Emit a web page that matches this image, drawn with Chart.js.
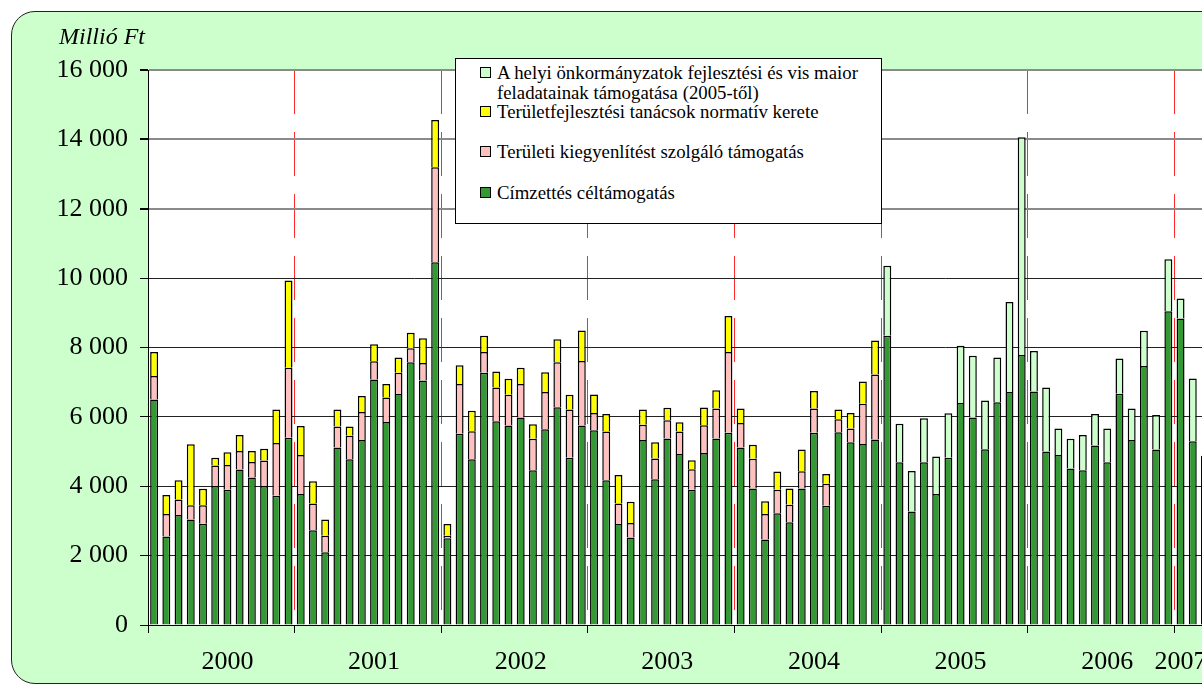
<!DOCTYPE html>
<html>
<head>
<meta charset="utf-8">
<script src="https://cdn.jsdelivr.net/npm/chart.js@4/dist/chart.umd.min.js"></script>
<style>
body { margin: 0; width: 1202px; height: 686px; overflow: hidden; background: #fff; position: relative;
       font-family: "Liberation Serif", "Times New Roman", serif; color: #000; }
#frame { position: absolute; left: 11px; top: 11px; width: 1320px; height: 671px; background: #ccffcc;
         border: 1px solid #222; border-radius: 24px; }
#chart { position: absolute; left: 0; top: 0; }
#unit { position: absolute; left: 59px; top: 22px; font-size: 24px; line-height: 28px; font-style: italic; }
#legend { position: absolute; left: 455px; top: 58px; width: 427px; height: 166px; background: #fff;
          border: 1px solid #000; box-sizing: border-box; }
.item { position: absolute; left: 24px; font-size: 18.8px; line-height: 20px; white-space: nowrap; }
.mark { position: absolute; left: 0; top: 4px; width: 9px; height: 9px; border: 1.5px solid #000; }
.txt { position: absolute; left: 17px; top: 0; }
</style>
</head>
<body>
<div id="frame"></div>
<canvas id="chart" width="1219" height="686"></canvas>
<div id="unit">Millió Ft</div>
<div id="legend"></div>
<script>
// havi adatok, millió Ft
const years = ["2000", "2001", "2002", "2003", "2004", "2005", "2006", "2007"];
const months = ["01", "02", "03", "04", "05", "06", "07", "08", "09", "10", "11", "12"];
const lastMonth2007 = 3;

const yearTicks = ["2000", "2001", "2002", "2003", "2004", "2005", "2006", "2007"];
const yearTickIndex = [6, 18, 30, 42, 54, 66, 78, 84];

const cimzett = [
    6500, 2550, 3170, 3040, 2920, 4010, 3900, 4480, 4250, 4010, 3725, 5400,
    3780, 2730, 2100, 5120, 4775, 5330, 7080, 5855, 6660, 7575, 7050, 10460,
    2500, 5510, 4775, 7270, 5875, 5750, 5980, 4460, 5645, 6275, 4825, 5750,
    5615, 4175, 2915, 2520, 5330, 4200, 5380, 4930, 3900, 4955, 5380, 5540,
    5120, 3935, 2465, 3220, 2960, 3935, 5540, 3440, 5560, 5265, 5215, 5350,
    8340, 4690, 3275, 4690, 3775, 4825, 6400, 5980, 5070, 6420, 6715, 7785,
    6735, 5005, 4900, 4510, 4460, 5175, 4690, 6665, 5330, 7470, 5060, 9045,
    8835, 5300, 4880
];
const teruleti = [
    680, 650, 450, 410, 535, 590, 710, 535, 450, 735, 1520, 2015,
    1120, 775, 470, 600, 680, 810, 525, 700, 610, 400, 505, 2740,
    75, 1440, 810, 600, 975, 890, 965, 910, 1070, 1300, 1385, 1860,
    495, 1405, 590, 420, 440, 600, 525, 650, 590, 800, 860, 2330,
    700, 860, 735, 680, 505, 495, 700, 630, 370, 400, 1165, 1870,
    null, null, null, null, null, null, null, null, null, null, null, null,
    null, null, null, null, null, null, null, null, null, null, null, null,
    null, null, null
];
const tanacsok = [
    690, 550, 550, 1760, 470, 220, 370, 460, 315, 335, 965, 2520,
    840, 640, 470, 490, 265, 460, 490, 390, 440, 450, 715, 1355,
    335, 535, 590, 470, 460, 460, 470, 420, 575, 660, 430, 880,
    535, 505, 820, 610, 440, 470, 355, 265, 260, 515, 525, 1040,
    420, 400, 370, 525, 470, 630, 505, 285, 285, 450, 640, 985,
    null, null, null, null, null, null, null, null, null, null, null, null,
    null, null, null, null, null, null, null, null, null, null, null, null,
    null, null, null
];
const onkormanyzati = [
    null, null, null, null, null, null, null, null, null, null, null, null,
    null, null, null, null, null, null, null, null, null, null, null, null,
    null, null, null, null, null, null, null, null, null, null, null, null,
    null, null, null, null, null, null, null, null, null, null, null, null,
    null, null, null, null, null, null, null, null, null, null, null, null,
    2015, 1110, 1165, 1270, 1080, 1280, 1650, 1785, 1405, 1290, 2600, 6275,
    1165, 1845, 765, 860, 1020, 910, 975, 1020, 915, 1010, 995, 1500,
    575, 1805, null
];

const seriesNames = [
    "Címzettés céltámogatás",
    "Területi kiegyenlítést szolgáló támogatás",
    "Területfejlesztési tanácsok normatív kerete",
    ["A helyi önkormányzatok fejlesztési és vis maior", "feladatainak támogatása (2005-től)"]
];
const seriesColors = ["#339933", "#ffc0c0", "#ffff00", "#ccffcc"];

const categories = [];
years.forEach(y => months.forEach((m, i) => {
    if (y !== "2007" || i < lastMonth2007) categories.push(y + "." + m);
}));

Chart.defaults.font.family = '"Liberation Serif", "Times New Roman", serif';
Chart.defaults.color = "#000";

function fmt(v) {
    return String(v).replace(/\B(?=(\d{3})+(?!\d))/g, " ");
}

const plotBg = {
    id: "plotBg",
    beforeDraw(chart) {
        const a = chart.chartArea;
        chart.ctx.save();
        chart.ctx.fillStyle = "#fff";
        chart.ctx.fillRect(a.left, a.top, a.right - a.left, a.bottom - a.top);
        chart.ctx.restore();
    }
};

const values = [cimzett, teruleti, tanacsok, onkormanyzati];
const datasets = values.map((d, i) => ({
    label: seriesNames[i],
    data: d,
    backgroundColor: seriesColors[i],
    borderColor: "#000",
    borderWidth: 1.5,
    barPercentage: 0.65,
    categoryPercentage: 1
}));

const chartobj = new Chart(document.getElementById("chart"), {
    type: "bar",
    data: { labels: categories, datasets: datasets },
    options: {
        responsive: false,
        animation: false,
        layout: { padding: { top: 70, right: 0, bottom: 0, left: 0 } },
        plugins: { legend: { display: false }, tooltip: { enabled: false } },
        scales: {
            x: {
                stacked: true,
                offset: true,
                grid: {
                    offset: true,
                    color: c => (c.index > 0 && c.index % 12 === 0) ? "#ff2a2a" : "rgba(0,0,0,0)",
                    lineWidth: 1,
                    tickColor: c => (c.index % 12 === 0) ? "#000" : "rgba(0,0,0,0)",
                    tickLength: 8
                },
                border: { color: "#000", width: 1, dash: [44, 18] },
                ticks: {
                    autoSkip: false,
                    maxRotation: 0,
                    padding: 14,
                    font: { size: 26 },
                    callback: (v, i) => {
                        const k = yearTickIndex.indexOf(i);
                        return k < 0 ? "" : yearTicks[k];
                    }
                },
                afterFit: s => { s.height = 61; }
            },
            y: {
                stacked: true,
                min: 0,
                max: 16000,
                ticks: { stepSize: 2000, padding: 12, font: { size: 26 }, callback: v => fmt(v) },
                grid: {
                    color: c => (c.tick && c.tick.value >= 12000) ? "#8a8a8a" : "#222",
                    lineWidth: c => (c.tick && c.tick.value >= 12000) ? 2 : 1,
                    tickColor: "#000",
                    tickLength: 8
                },
                border: { color: "#000", width: 1 },
                afterFit: s => { s.width = 148; }
            }
        }
    },
    plugins: [plotBg]
});

// jelmagyarázat a diagram adataiból, fordított sorrendben
const legend = document.getElementById("legend");
const itemTops = [4, 43, 83, 124];
chartobj.data.datasets.slice().reverse().forEach((ds, i) => {
    const item = document.createElement("div");
    item.className = "item";
    item.style.top = itemTops[i] + "px";
    const mark = document.createElement("div");
    mark.className = "mark";
    mark.style.background = ds.backgroundColor;
    const txt = document.createElement("div");
    txt.className = "txt";
    txt.innerHTML = [].concat(ds.label).join("<br>");
    item.appendChild(mark);
    item.appendChild(txt);
    legend.appendChild(item);
});
</script>
</body>
</html>
